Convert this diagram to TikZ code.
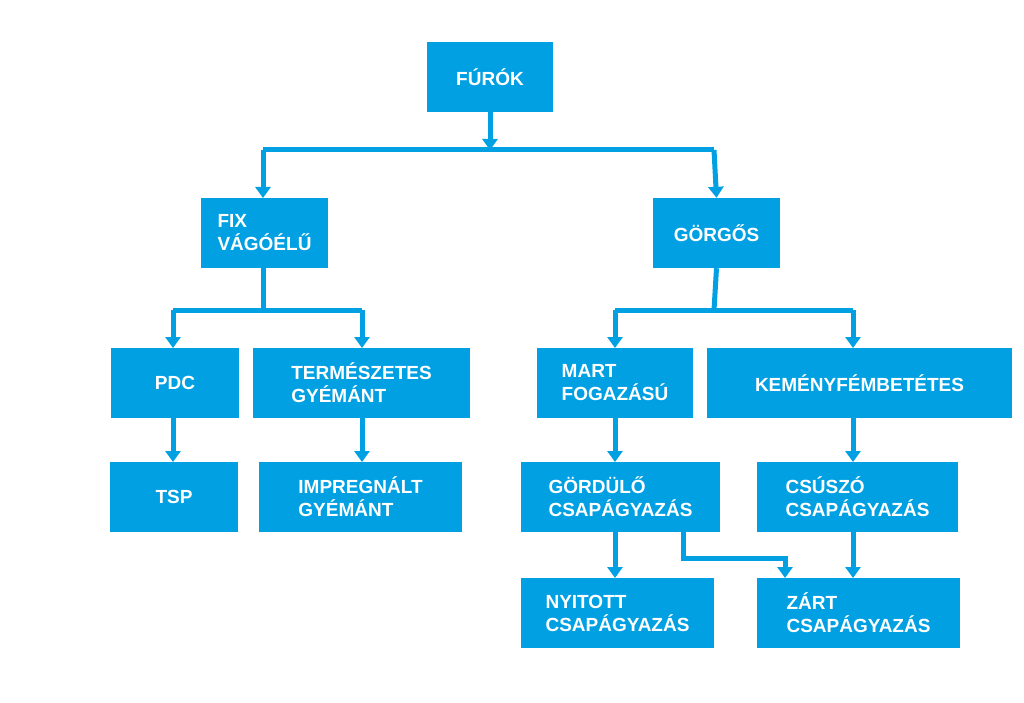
\documentclass[tikz,border=0pt]{standalone}
\usepackage{fontspec}
\setmainfont{Liberation Sans}
\usetikzlibrary{arrows.meta}
\definecolor{bl}{RGB}{0,160,227}
\begin{document}
\begin{tikzpicture}[x=1pt,y=-1pt,
  bx/.style={fill=bl,text=white,font=\fontsize{19}{23}\selectfont\bfseries,align=left,inner sep=0pt},
  ln/.style={draw=bl,line width=5pt},
  ar/.style={ln,-{Triangle[length=11pt,width=15pt]}}]
\useasboundingbox (0,0) rectangle (1024,703);
\fill[white] (0,0) rectangle (1024,703);
\newcommand\bb[6]{\node[bx,minimum width=#4-#2,minimum height=#5-#3] (#1) at ({(#2+#4)/2},{(#3+#5)/2}) {#6};}
\bb{f}{427}{42}{553}{112}{FÚRÓK}
\bb{fix}{201}{198}{328}{268}{FIX\\VÁGÓÉLŰ}
\bb{g}{653}{198}{780}{268}{GÖRGŐS}
\bb{pdc}{111}{348}{239}{418}{PDC}
\bb{term}{253}{348}{470}{418}{TERMÉSZETES\\GYÉMÁNT}
\bb{mart}{537}{348}{693}{418}{MART\\FOGAZÁSÚ}
\bb{kem}{707}{348}{1012}{418}{KEMÉNYFÉMBETÉTES}
\bb{tsp}{110}{462}{238}{532}{TSP}
\bb{imp}{259}{462}{462}{532}{IMPREGNÁLT\\GYÉMÁNT}
\bb{gord}{521}{462}{720}{532}{GÖRDÜLŐ\\CSAPÁGYAZÁS}
\bb{csu}{757}{462}{958}{532}{CSÚSZÓ\\CSAPÁGYAZÁS}
\bb{nyi}{521}{578}{714}{648}{NYITOTT\\CSAPÁGYAZÁS}
\bb{zart}{757}{578}{960}{648}{ZÁRT\\CSAPÁGYAZÁS}
% top
\draw[ar] (f.south) -- (490,150);
\draw[ln] (263,150) -- (714,150);
\draw[ar] (263,150) -- (263,198);
\draw[ar] (714,150) -- (g.north);
% fix
\coordinate (c1) at (263,310);
\draw[ln] (263,268) -- (c1);
\draw[ln] (173,310) -- (362,310);
\draw[ar] (173,310) -- (173,348);
\draw[ar] (362,310) -- (362,348);
% gorgos
\draw[ln] (g.south) -- (714,310);
\draw[ln] (615,310) -- (853,310);
\draw[ar] (615,310) -- (615,348);
\draw[ar] (853,310) -- (853,348);
% downs
\draw[ar] (173,418) -- (173,462);
\draw[ar] (362,418) -- (362,462);
\draw[ar] (615,418) -- (615,462);
\draw[ar] (853,418) -- (853,462);
\draw[ar] (615,532) -- (615,578);
\draw[ar] (853,532) -- (853,578);
\draw[ar] (683,532) -- (683,558) -- (785,558) -- (785,578);
\end{tikzpicture}
\end{document}
